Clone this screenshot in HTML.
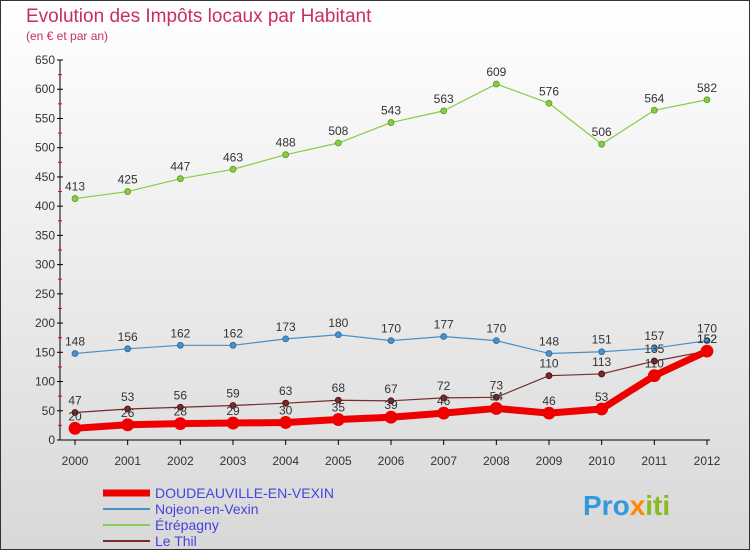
<!DOCTYPE html>
<html><head><meta charset="utf-8"><style>
body{margin:0;width:750px;height:550px;overflow:hidden;font-family:"Liberation Sans",sans-serif}
</style></head><body>
<svg width="750" height="550" xmlns="http://www.w3.org/2000/svg">
<defs><linearGradient id="bg" x1="0" y1="0" x2="0" y2="1"><stop offset="0" stop-color="#ffffff"/><stop offset="1" stop-color="#d8d8d8"/></linearGradient></defs>
<rect x="0.5" y="0.5" width="749" height="549" fill="url(#bg)" stroke="#333"/>
<text x="26" y="22" font-size="19" fill="#c8305a">Evolution des Impôts locaux par Habitant</text>
<text x="26" y="40" font-size="12" fill="#c8305a">(en € et par an)</text>
<g id="axes"></g>
<g id="series"></g>
<g id="legend">
<line x1="103" y1="493" x2="150" y2="493" stroke="#ee0000" stroke-width="7"/>
<text x="155" y="498" font-size="14" fill="#4444dd">DOUDEAUVILLE-EN-VEXIN</text>
<line x1="103" y1="509" x2="150" y2="509" stroke="#4a90c8" stroke-width="2"/>
<text x="155" y="514" font-size="14" fill="#4444dd">Nojeon-en-Vexin</text>
<line x1="103" y1="525" x2="150" y2="525" stroke="#88cc55" stroke-width="2"/>
<text x="155" y="530" font-size="14" fill="#4444dd">Étrépagny</text>
<line x1="103" y1="541" x2="150" y2="541" stroke="#7a2a2a" stroke-width="2"/>
<text x="155" y="546" font-size="14" fill="#4444dd">Le Thil</text>
</g>
<text x="583" y="515" font-size="28" font-weight="bold" fill="#3399dd">Pro<tspan fill="#ff8800">x</tspan><tspan fill="#88bb22">iti</tspan></text>
</svg>
<script>
const years=[2000,2001,2002,2003,2004,2005,2006,2007,2008,2009,2010,2011,2012];
const yTicks=[0,50,100,150,200,250,300,350,400,450,500,550,600,650];
const doudeauville=[20,26,28,29,30,35,39,46,54,46,53,110,152];
const nojeon=[148,156,162,162,173,180,170,177,170,148,151,157,170];
const etrepagny=[413,425,447,463,488,508,543,563,609,576,506,564,582];
const lethil=[47,53,56,59,63,68,67,72,73,110,113,135,152];
const NS="http://www.w3.org/2000/svg";
function xs(i){return 75+i*(707-75)/(years.length-1);}
function ys(v){return 440-v*380/650;}
function mk(t,a,p){const e=document.createElementNS(NS,t);for(const k in a)e.setAttribute(k,a[k]);p.appendChild(e);return e;}
const ax=document.getElementById('axes');
const yl=mk('line',{x1:60,y1:60,x2:60,y2:440,stroke:'#000'},ax);


const xl=mk('line',{x1:60,y1:440,x2:710,y2:440,stroke:'#000'},ax);


yTicks.forEach(v=>{const y=ys(v);
mk('line',{x1:57,y1:y,x2:63,y2:y,stroke:'#000'},ax);
mk('line',{x1:58,y1:ys(v+25),x2:62,y2:ys(v+25),stroke:v<650?'#e00':'none'},ax);
const t=mk('text',{x:55,y:y+4,'font-size':12,fill:'#333','text-anchor':'end'},ax);t.textContent=v;

});
years.forEach((yr,i)=>{const x=xs(i);
mk('line',{x1:x,y1:440,x2:x,y2:445,stroke:'#000'},ax);
const t=mk('text',{x:x,y:465,'font-size':12,fill:'#333','text-anchor':'middle'},ax);t.textContent=yr;

});
const sg=document.getElementById('series');
function draw(name,vals,color,w,r,stroke){
const g=mk('g',{},sg);


const p=mk('polyline',{points:vals.map((v,i)=>xs(i)+','+ys(v)).join(' '),fill:'none',stroke:color,'stroke-width':w,'stroke-linejoin':'round'},g);


vals.forEach((v,i)=>{const c=mk('circle',{cx:xs(i),cy:ys(v),r:r,fill:color,stroke:stroke,'stroke-width':0.8},g);


const t=mk('text',{x:xs(i),y:ys(v)-8,'font-size':12,fill:'#333','text-anchor':'middle'},g);t.textContent=v;

});}
draw('etrepagny',etrepagny,'#88cc44',1.2,3,'#559922');
draw('nojeon',nojeon,'#4a90c8',1.2,3,'#2a6aa0');
draw('le-thil',lethil,'#7a2a2a',1.2,3,'#4a0a0a');
draw('doudeauville',doudeauville,'#ee0000',7,6,'#ee0000');
</script>
</body></html>
